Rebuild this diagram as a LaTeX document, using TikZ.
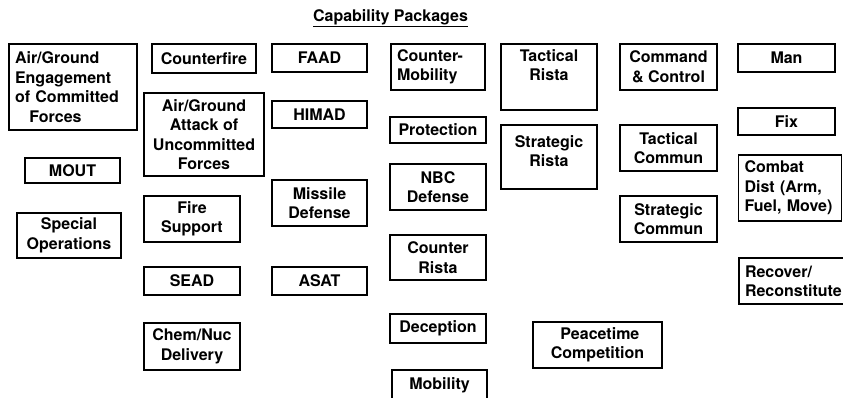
\documentclass[tikz,border=0pt]{standalone}
\usepackage{fontspec}
\setmainfont{TeX Gyre Heros}
\usepackage{tikz}
\usetikzlibrary{positioning}

\begin{document}
\begin{tikzpicture}[
  x=1pt, y=-1pt,
  every node/.style = {font=\bfseries\fontsize{16}{19.5}\selectfont},
  pkg/.style    = {rectangle, draw=black, line width=1.5pt,
                   inner sep=3pt, align=center},
  lbox/.style   = {pkg, align=left, inner xsep=6pt, text width=#1},
  topbox/.style = {pkg, text width=#1},
]
\useasboundingbox (0,0) rectangle (843,397);

%% ══ TITLE ════════════════════════════════════════════════════════════════
\node[anchor=base] at (390.5, 21) (title) {\underline{Capability Packages}};

%% ══ COLUMN 1 ═════════════════════════════════════════════════════════════
\node[lbox=116pt, minimum height=86pt] at (73, 87) (engage) {
  Air/Ground\\Engagement\\of Committed\\\hspace*{0.9em}Forces
};
\node[pkg, minimum width=95pt, minimum height=25pt] at (72.5, 170.5) (mout) {MOUT};
\node[pkg, minimum width=104pt, minimum height=45pt] at (69, 235.5) (specops) {
  Special\\Operations
};

%% ══ COLUMN 2 ═════════════════════════════════════════════════════════════
\node[pkg, minimum width=104pt, minimum height=29pt] at (204, 58.5) (cfire) {Counterfire};
\node[pkg, minimum width=120pt, minimum height=83pt] at (204, 134.5) (attack) {
  Air/Ground\\Attack of\\Uncommitted\\Forces
};
\node[pkg, minimum width=96pt, minimum height=46pt] at (192, 219) (firesup) {
  Fire\\Support
};
\node[pkg, minimum width=96pt, minimum height=28pt] at (192, 281) (sead) {SEAD};
\node[pkg, minimum width=96pt, minimum height=47pt] at (192, 346.5) (chemnuc) {
  Chem/Nuc\\Delivery
};

%% ══ COLUMN 3 ═════════════════════════════════════════════════════════════
\node[pkg, minimum width=95pt, minimum height=28pt] at (319.5, 58) (faad) {FAAD};
\node[pkg, minimum width=95pt, minimum height=27pt] at (319.5, 114.5) (himad) {HIMAD};
\node[pkg, minimum width=95pt, minimum height=46pt] at (319.5, 203) (missile) {
  Missile\\Defense
};
\node[pkg, minimum width=95pt, minimum height=28pt] at (319.5, 281) (asat) {ASAT};

%% ══ COLUMN 4 ═════════════════════════════════════════════════════════════
\node[lbox=82pt, minimum height=46pt] at (438, 67) (cmob) {Counter-\\Mobility};
\node[pkg, minimum width=96pt, minimum height=26pt] at (438, 130) (protect) {Protection};
\node[pkg, minimum width=96pt, minimum height=46pt] at (438, 187) (nbc) {
  NBC\\Defense
};
\node[pkg, minimum width=96pt, minimum height=45pt] at (438, 257.5) (crista) {
  Counter\\Rista
};
\node[pkg, minimum width=96pt, minimum height=29pt] at (438, 328.5) (decept) {Deception};
\node[pkg, minimum width=95pt, minimum height=30pt] at (439.5, 385) (mobil) {Mobility};

%% ══ COLUMN 5 ═════════════════════════════════════════════════════════════
\node[topbox=90pt, text height=14pt, text depth=46pt] at (549, 77) (trista) {
  Tactical\\Rista
};
\node[topbox=90pt, text height=19pt, text depth=39pt] at (549, 157) (srista) {
  Strategic\\Rista
};
\node[pkg, minimum width=129pt, minimum height=46pt] at (597.5, 345) (peace) {
  \hspace*{0.3em}Peacetime\\Competition
};

%% ══ COLUMN 6 ═════════════════════════════════════════════════════════════
\node[pkg, minimum width=97pt, minimum height=46pt] at (668.5, 67) (ctrl) {
  Command\\\& Control
};
\node[pkg, minimum width=97pt, minimum height=46pt] at (668.5, 148) (tcomm) {
  Tactical\\Commun
};
\node[pkg, minimum width=97pt, minimum height=46pt] at (668.5, 219) (scomm) {
  Strategic\\Commun
};

%% ══ COLUMN 7 (runs off the right edge) ══════════════════════════════════
\node[pkg, minimum width=97pt, minimum height=28pt] at (786.5, 58) (man) {Man};
\node[pkg, minimum width=97pt, minimum height=27pt] at (786.5, 121.5) (fix) {Fix};
\node[lbox=91pt, minimum height=66pt] at (790, 188) (combat) {
  Combat\\Dist (Arm,\\Fuel, Move)
};
\node[lbox=110pt, minimum height=46pt] at (800, 281) (recover) {
  Recover/\\Reconstitute
};

\end{tikzpicture}
\end{document}
